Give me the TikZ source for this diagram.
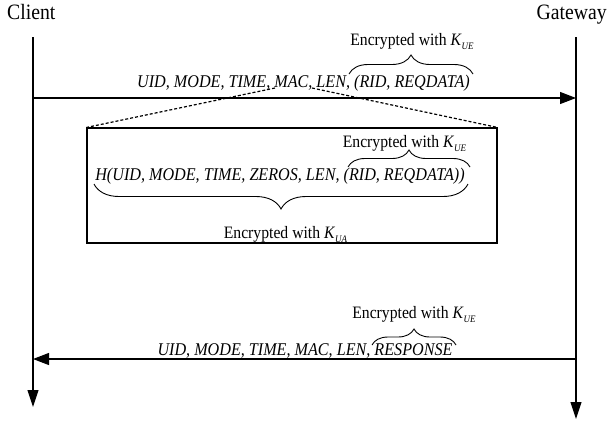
\documentclass[tikz,border=0pt]{standalone}
\usepackage{graphicx}
\usepackage{fontspec}
\setmainfont{Liberation Serif}
\usetikzlibrary{arrows.meta,decorations.pathreplacing}
\newcommand{\hs}[1]{\scalebox{0.9}[1]{#1}}
\newcommand{\Kx}[1]{\textit{K}\raisebox{-0.5ex}{\fontsize{10}{11}\selectfont\itshape #1}}
\begin{document}
\begin{tikzpicture}[x=1bp,y=-1bp,
  lbl/.style={inner sep=0pt,font=\fontsize{22}{24}\selectfont},
  enc/.style={inner sep=0pt,font=\fontsize{17.5}{20}\selectfont},
  msg/.style={inner sep=0pt,font=\fontsize{18}{20}\selectfont\itshape},
  life/.style={line width=1.1pt,-{Triangle[length=17bp,width=11bp]}},
  arr/.style={line width=1.1pt,-{Triangle[length=16bp,width=12bp]}},
  brc/.style={decorate,line width=0.9pt},
  dots/.style={dash pattern=on 3bp off 2bp,line width=1.2pt}]
\useasboundingbox (0,0) rectangle (608,422);
\node[lbl,anchor=base west] (client) at (7,19.5) {\hs{Client}};
\node[lbl,anchor=base east] (gateway) at (607,19.5) {\hs{Gateway}};
\coordinate (c0) at (33,37);
\coordinate (c1) at (33,407);
\coordinate (g0) at (576,37);
\coordinate (g1) at (576,419);
\draw[life] (c0) -- (c1);
\draw[life] (g0) -- (g1);
% top message
\coordinate (ta) at (33,98);
\coordinate (tb) at (576,98);
\draw[arr] (ta) -- (tb);
\node[msg,anchor=base] (m1) at (303.5,87) {\hs{UID, MODE, TIME, MAC, LEN, (RID, REQDATA)}};
\coordinate (b1a) at (349,74);
\coordinate (b1b) at (473,74);
\draw[brc,decoration={brace,amplitude=19bp}] (b1a) -- (b1b);
\node[enc,anchor=base] (e1) at (412,45) {\hs{Encrypted with \Kx{UE}}};
% box
\node[draw,line width=1.1pt,minimum width=410bp,minimum height=115bp,inner sep=0pt] (box) at (292,185.5) {};
\coordinate (mac) at (275,88);
\coordinate (len) at (312,88);
\draw[dots] (mac) -- (box.north west);
\draw[dots] (len) -- (box.north east);
\node[msg,anchor=base] (m2) at (280,180) {\hs{H(UID, MODE, TIME, ZEROS, LEN, (RID, REQDATA))}};
\coordinate (b2a) at (348,167);
\coordinate (b2b) at (470,167);
\draw[brc,decoration={brace,amplitude=17bp}] (b2a) -- (b2b);
\node[enc,anchor=base] (e2) at (404.5,147) {\hs{Encrypted with \Kx{UE}}};
\coordinate (b3a) at (468,184);
\coordinate (b3b) at (94,184);
\draw[brc,decoration={brace,amplitude=25bp}] (b3a) -- (b3b);
\node[enc,anchor=base] (e3) at (285.5,238) {\hs{Encrypted with \Kx{UA}}};
% bottom message
\coordinate (ba) at (576,359);
\coordinate (bb) at (33,359);
\draw[arr] (ba) -- (bb);
\node[msg,anchor=base] (m3) at (305,355) {\hs{UID, MODE, TIME, MAC, LEN, RESPONSE}};
\coordinate (b4a) at (372,345);
\coordinate (b4b) at (456,345);
\draw[brc,decoration={brace,amplitude=16bp}] (b4a) -- (b4b);
\node[enc,anchor=base] (e4) at (414,318) {\hs{Encrypted with \Kx{UE}}};
\end{tikzpicture}
\end{document}
